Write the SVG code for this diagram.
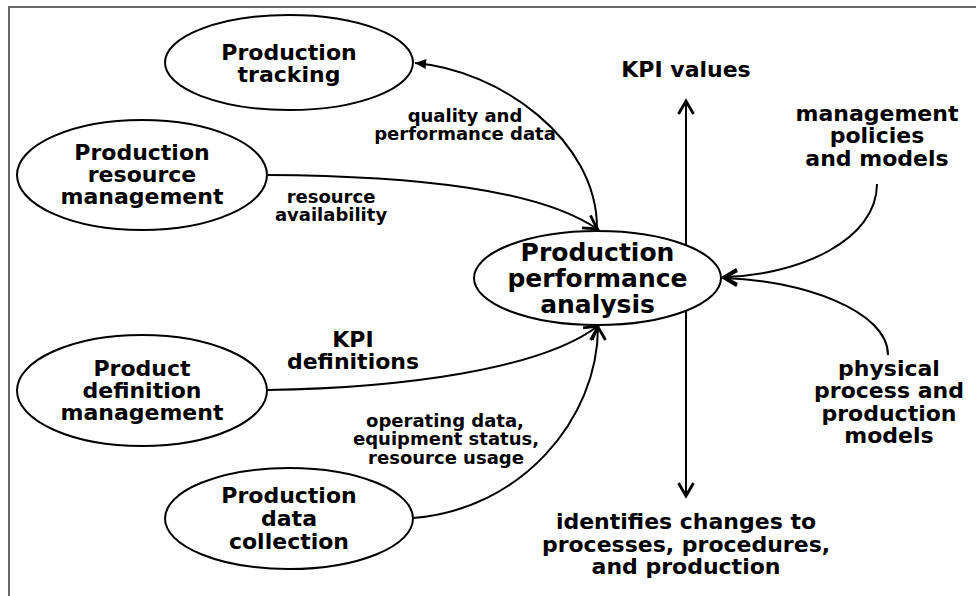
<svg xmlns="http://www.w3.org/2000/svg" width="976" height="596" viewBox="0 0 976 596">
<style>
  .node ellipse { fill: #fff; stroke: #000; stroke-width: 2; }
  text { font-family: "DejaVu Sans", Verdana, sans-serif; font-weight: bold; fill: #000; text-anchor: middle; }
  .nt { font-size: 22px; }
  .ct { font-size: 25px; }
  .lb { font-size: 22px; }
  .sm { font-size: 18px; }
  .conn path { fill: none; stroke: #000; stroke-width: 2; }
</style>
<defs>
  <marker id="v" markerUnits="userSpaceOnUse" markerWidth="30" markerHeight="30" viewBox="-15 -15 30 30" refX="0" refY="0" orient="auto" overflow="visible">
    <path d="M-13,-7.5 L0,0 L-13,7.5" fill="none" stroke="#000" stroke-width="2.8" stroke-linejoin="miter"/>
  </marker>
  <marker id="tri" markerUnits="userSpaceOnUse" markerWidth="20" markerHeight="20" viewBox="-10 -10 20 20" refX="0" refY="0" orient="auto" overflow="visible">
    <path d="M-11,-5 L0,0 L-11,5 z" fill="#000"/>
  </marker>
</defs>
<rect x="0" y="0" width="976" height="596" fill="#fff"/>
<path d="M9,596 L9,7 L976,7" fill="none" stroke="#666" stroke-width="2"/>

<g class="conn" id="connectors">
  <path d="M597,228 C597,140 500,70 415,63" marker-end="url(#tri)" marker-start="url(#v)"/>
  <path d="M267,175 C420,176 540,190 597,229" marker-end="url(#v)"/>
  <path d="M267,390 C400,388 540,370 598,326" marker-end="url(#v)"/>
  <path d="M413,518 C520,510 598,420 598,327" marker-end="url(#v)"/>
  <path d="M686,245 L686,101" marker-end="url(#v)"/>
  <path d="M686,311 L686,496" marker-end="url(#v)"/>
  <path d="M877,184 C877,240 800,275 724,277" marker-end="url(#v)"/>
  <path d="M888,355 C888,310 800,280 724,278" marker-end="url(#v)"/>
</g>

<g class="node" id="production-tracking">
  <ellipse cx="289" cy="62.5" rx="124" ry="47.5"/>
  <text class="nt" x="289" y="60">Production</text>
  <text class="nt" x="289" y="82">tracking</text>
</g>
<g class="node" id="production-resource-management">
  <ellipse cx="142" cy="175" rx="125" ry="55"/>
  <text class="nt" x="142" y="160">Production</text>
  <text class="nt" x="142" y="182">resource</text>
  <text class="nt" x="142" y="204">management</text>
</g>
<g class="node" id="product-definition-management">
  <ellipse cx="142" cy="390.5" rx="125" ry="55.5"/>
  <text class="nt" x="142" y="376">Product</text>
  <text class="nt" x="142" y="398">definition</text>
  <text class="nt" x="142" y="420">management</text>
</g>
<g class="node" id="production-data-collection">
  <ellipse cx="289" cy="518.5" rx="124" ry="50.5"/>
  <text class="nt" x="289" y="503">Production</text>
  <text class="nt" x="289" y="526">data</text>
  <text class="nt" x="289" y="549">collection</text>
</g>
<g class="node" id="production-performance-analysis">
  <ellipse cx="597.5" cy="278" rx="123.5" ry="47"/>
  <text class="ct" x="597.5" y="261">Production</text>
  <text class="ct" x="597.5" y="287">performance</text>
  <text class="ct" x="597.5" y="313">analysis</text>
</g>

<g id="labels">
  <text class="sm" x="465" y="122">quality and</text>
  <text class="sm" x="465" y="140">performance data</text>
  <text class="sm" x="331" y="203">resource</text>
  <text class="sm" x="331" y="221">availability</text>
  <text class="lb" x="353" y="347">KPI</text>
  <text class="lb" x="353" y="369">definitions</text>
  <text class="sm" x="445" y="427">operating data,</text>
  <text class="sm" x="446" y="445">equipment status,</text>
  <text class="sm" x="446" y="464">resource usage</text>
  <text class="lb" x="686" y="77">KPI values</text>
  <text class="lb" x="877" y="121">management</text>
  <text class="lb" x="877" y="143">policies</text>
  <text class="lb" x="877" y="166">and models</text>
  <text class="lb" x="889" y="376">physical</text>
  <text class="lb" x="889" y="398">process and</text>
  <text class="lb" x="889" y="421">production</text>
  <text class="lb" x="889" y="443">models</text>
  <text class="lb" x="686" y="529">identifies changes to</text>
  <text class="lb" x="686" y="552">processes, procedures,</text>
  <text class="lb" x="686" y="574">and production</text>
</g>
</svg>
